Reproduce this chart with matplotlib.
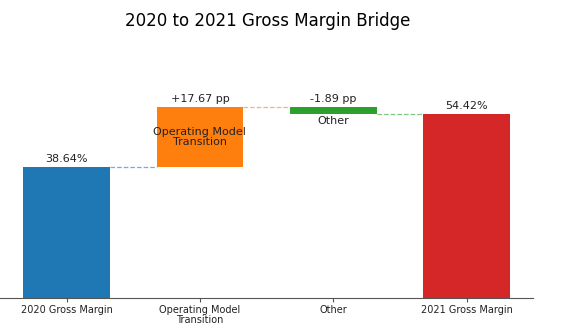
import matplotlib
matplotlib.use('Agg')
import matplotlib.pyplot as plt

# dati del ponte
categories = ['2020 Gross Margin', 'Operating Model\nTransition', 'Other', '2021 Gross Margin']
start_value = 38.64
deltas = [17.67, -1.89]
end_value = 54.42
bar_labels = ['38.64%', '+17.67 pp', '-1.89 pp', '54.42%']
inner_labels = ['', 'Operating Model\nTransition', 'Other', '']
colors = ['#1f77b4', '#ff7f0e', '#2ca02c', '#d62728']

fig = plt.figure(figsize=(5.63, 3.32), dpi=100)
ax = fig.add_axes([0.0, 0.102, 0.947, 0.715])

width = 0.65
x = list(range(len(categories)))

# calcola basi e altezze
bottoms = [0]
heights = [start_value]
level = start_value
for d in deltas:
    if d >= 0:
        bottoms.append(level)
        heights.append(d)
    else:
        bottoms.append(level + d)
        heights.append(-d)
    level += d
bottoms.append(0)
heights.append(end_value)

ax.bar(x, heights, bottom=bottoms, width=width, color=colors)

# livelli per le linee di collegamento
levels = [start_value, start_value + deltas[0], start_value + deltas[0] + deltas[1]]
for i in range(3):
    ax.plot([x[i] + width / 2, x[i + 1] - width / 2], [levels[i], levels[i]],
            linestyle='--', color=colors[i], alpha=0.6, linewidth=0.9)

# etichette sopra le barre
for i in range(len(x)):
    top = bottoms[i] + heights[i]
    ax.text(x[i], top + 0.8, bar_labels[i], ha='center', va='bottom', fontsize=8, color='#222222')

# etichette interne
ax.text(x[1], bottoms[1] + heights[1] / 2, inner_labels[1], ha='center', va='center',
        fontsize=8, color='#222222', linespacing=1.0)
ax.text(x[2], bottoms[2] - 0.8, inner_labels[2], ha='center', va='top', fontsize=8, color='#222222')

ax.set_xticks(x)
ax.set_xticklabels(categories, fontsize=7, linespacing=1.0, color='#222222')
ax.set_yticks([])
ax.set_xlim(-0.5, 3.5)
ax.set_ylim(0, 70)
for s in ['top', 'right', 'left']:
    ax.spines[s].set_visible(False)
ax.spines['bottom'].set_color('#555555')
ax.tick_params(axis='x', length=3, color='#555555', pad=2)

fig.suptitle('2020 to 2021 Gross Margin Bridge', fontsize=12, x=0.475, y=0.963)

fig.savefig('out.png', dpi=100)
